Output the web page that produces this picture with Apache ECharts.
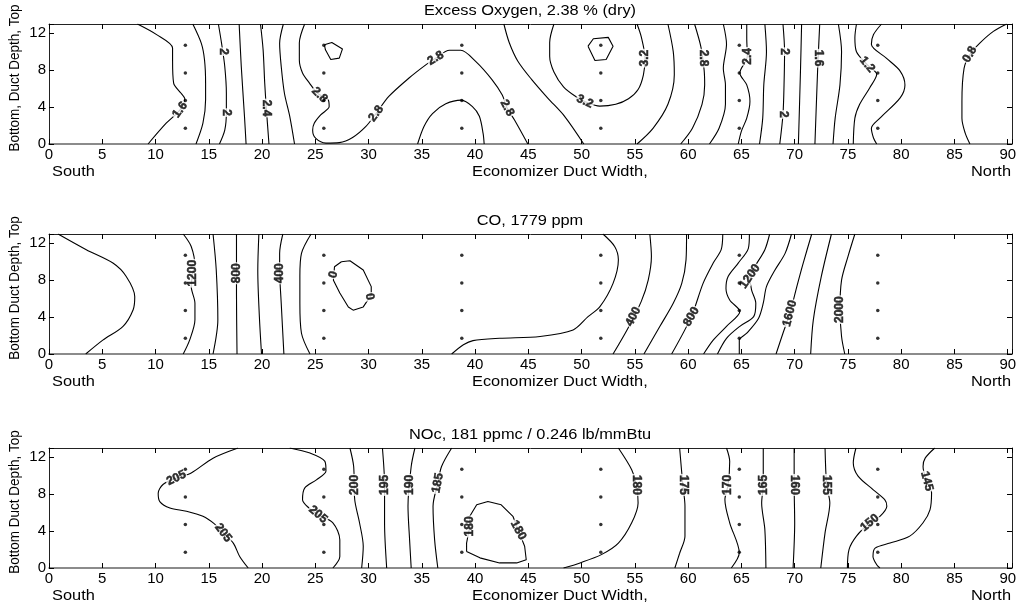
<!DOCTYPE html>
<html><head><meta charset="utf-8">
<script src="https://cdn.jsdelivr.net/npm/echarts@6/dist/echarts.min.js"></script>
<style>html,body{margin:0;padding:0;background:#fff}#c{width:1021px;height:610px}</style>
</head><body><div id="c"></div>
<script>
// ---------- axes / ticks ----------
const xTickValues = [0,5,10,15,20,25,30,35,40,45,50,55,60,65,70,75,80,85,90];
const yTickValues = [0,4,8,12];
const xMax = 90.4, yMax = 13;
// ---------- measurement ports (dots) ----------
const portX = [12.8, 25.8, 38.75, 51.8, 64.8, 77.8];
const portY = [1.7, 4.7, 7.7, 10.7];
// ---------- texts ----------
const panelTitles = ['Excess Oxygen, 2.38 % (dry)', 'CO, 1779 ppm', 'NOc, 181 ppmc / 0.246 lb/mmBtu'];
const yAxisTitles = ['Bottom, Duct Depth, Top', 'Bottom Duct Depth, Top', 'Bottom Duct Depth, Top'];
const xAxisTitle = 'Economizer Duct Width,';
const leftSide = 'South', rightSide = 'North';

// ---------- Panel 1: Excess O2 contour lines [level, points, closed] ----------
const o2Contours = [
  [1.6, [[8.3,13],[10.1,11.85],[11.6,10.4],[11.6,9.1],[11.7,6.6],[12.4,5.5],[12.75,4.9],[12.3,3.7],[11.0,2.25],[9.3,0]]],
  [1.8, [[13.5,13],[14.3,10.9],[14.6,9.1],[14.7,6.6],[14.7,4.8],[14.45,2.25],[13.8,0]]],
  [2.0, [[15.9,13],[16.2,10.9],[16.5,8.4],[16.65,5.5],[16.65,3.4],[16.5,1.5],[16.0,0]]],
  [2.2, [[17.85,13],[18.05,8.4],[18.35,3.0],[18.5,0]]],
  [2.4, [[19.85,13],[20.1,10.2],[20.25,6.6],[20.4,3.9],[20.65,0]]],
  [2.6, [[22.0,13],[21.65,10.9],[21.8,8.4],[22.1,5.5],[22.6,3.0],[23.05,0]]],
  [2.8, [[24.0,13],[23.5,10.95],[23.5,9.1],[23.8,7.7],[24.45,6.6],[25.2,5.5],[26.2,4.8],[26.3,4.05],[25.5,3.15],[24.9,2.25],[24.75,1.5],[25.05,0.6],[26.0,0.1],[27.25,0.15],[28.5,0.7],[29.75,1.9],[30.7,3.3],[31.9,5.15],[33.8,7.15],[35.4,8.6],[36.3,9.3],[37.6,10.15],[38.65,10.15],[40.05,8.95],[41.6,6.95],[42.55,5.3],[43.0,3.9],[43.7,2.6],[44.95,0]]],
  [2.8, [[25.85,10.75],[26.55,11.0],[27.55,10.3],[27.25,9.3],[26.45,9.15],[25.95,10.2],[25.85,10.75]], true],
  [3.0, [[34.6,0],[35.2,1.9],[36.0,3.3],[37.25,4.35],[38.7,4.75],[39.75,4.05],[40.4,3.0],[40.75,1.15],[40.85,0]]],
  [3.0, [[42.7,13],[43.2,11],[44.0,9],[45.3,7],[46.8,5],[48.4,3],[50.2,0]]],
  [3.2, [[47.4,13],[47.0,11],[47.0,9.5],[47.4,7.8],[48.3,6.2],[49.5,5.1],[50.3,4.6],[51.7,4.1],[53.2,4.3],[54.4,4.9],[55.3,5.9],[55.8,7.5],[55.95,9.3],[55.6,11.6],[55.2,13]]],
  [3.4, [[50.6,10.6],[51.1,11.4],[52.5,11.55],[52.95,10.6],[52.3,9.15],[51.25,9.05],[50.6,10.6]], true],
  [3.0, [[58.1,13],[58.6,10],[58.7,7.5],[58.1,4.3],[56.7,1.7],[55.2,0]]],
  [2.8, [[60.6,13],[61.2,10.5],[61.5,8],[61.55,6.4],[61.3,4.3],[60.4,1.7],[59.3,0]]],
  [2.6, [[63.3,13],[63.6,10.8],[63.3,8.2],[63.5,6.4],[63.5,4.3],[62.9,1.7],[62.0,0]]],
  [2.4, [[65.5,13],[65.5,11.5],[65.55,9.5],[64.85,7.7],[65.5,6.4],[65.8,4.6],[65.5,2.8],[65.0,1.4],[64.7,0]]],
  [2.2, [[67.2,13],[67.35,10],[67.1,6.4],[67.0,2.8],[66.7,0]]],
  [2.0, [[68.9,13],[69.05,10],[69.0,6.4],[68.9,3.2],[68.6,0]]],
  [1.8, [[70.65,13],[70.55,8.2],[70.35,0]]],
  [1.6, [[72.35,13],[72.2,9.3],[72.1,6.4],[71.9,0]]],
  [1.4, [[74.1,13],[74.4,10],[74.25,6.4],[73.8,2.8],[73.6,0]]],
  [1.2, [[75.8,13],[75.65,11.5],[75.8,10],[76.8,8.6],[77.7,7.55],[77.05,6.1],[76.1,4.3],[75.65,2.8],[75.5,0]]],
  [1.0, [[78.15,13],[77.4,11.85],[77.2,10.8],[78.6,9.3],[79.9,7.9],[80.35,6.4],[79.9,5.0],[78.0,2.8],[77.2,1.7],[77.4,0.65],[77.7,0]]],
  [0.8, [[89.9,13],[88.65,12.2],[87.4,10.95],[86.45,9.7],[85.9,8.2],[85.7,4.6],[85.7,2.8],[86.0,1.2],[86.45,0]]]
];
const o2Labels = [
  [12.3,3.7,'1.6',54],[16.35,10.0,'2',-90],[16.65,3.4,'2',-90],[20.4,3.9,'2.4',-90],
  [25.4,5.3,'2.8',-45],[30.7,3.3,'2.8',53],[36.3,9.3,'2.8',31],[43.0,3.9,'2.8',-62],
  [50.3,4.6,'3.2',-25],[55.95,9.3,'3.2',90],[61.4,9.3,'2.8',-90],[65.6,9.5,'2.4',90],
  [69.05,10.0,'2',-90],[68.9,3.2,'2',-90],[72.2,9.3,'1.6',-90],[76.8,8.6,'1.2',-50],[86.45,9.7,'0.8',60]
];

// ---------- Panel 2: CO contour lines ----------
const coContours = [
  [1400, [[0.85,13],[3.5,11.3],[6.0,9.85],[7.25,8.4],[8.05,6.2],[7.9,4.8],[6.95,3.0],[5.05,1.5],[3.45,0]]],
  [1200, [[12.6,13],[13.35,11.65],[13.7,9.5],[13.5,8.75],[13.35,7.3],[13.7,5.5],[13.7,3.7],[13.2,1.5],[12.6,0]]],
  [1000, [[15.4,13],[15.7,9.1],[15.85,3.7],[15.4,0]]],
  [800, [[17.6,13],[17.6,6.5],[17.65,0]]],
  [600, [[19.7,13],[19.6,9],[19.75,4],[19.95,0]]],
  [400, [[21.95,13],[21.65,10.9],[21.65,9.1],[21.8,5.5],[22.05,0]]],
  [200, [[24.6,13],[23.7,10.9],[23.55,8.4],[23.55,5.5],[23.7,2.25],[24.5,0]]],
  [0, [[27.45,10.0],[28.25,10.1],[29.5,9.1],[30.25,7.3],[30.25,6.4],[29.5,5.1],[28.55,4.75],[28.1,5.1],[27.3,6.6],[26.7,8.0],[26.8,9.45],[27.45,10.0]], true],
  [200, [[37.8,0],[38.9,1.0],[39.8,1.45],[42.3,1.7],[46.1,1.9],[49.2,2.6],[50.6,4.05],[51.7,5.1],[52.95,7.65],[53.45,10.2],[53.1,11.65],[52.0,13]]],
  [400, [[52.95,0],[54.35,2.8],[55.6,5.7],[56.25,8.0],[56.55,10.55],[56.4,13]]],
  [600, [[55.85,0],[57.35,3.0],[58.6,5.5],[59.4,7.65],[59.8,10.2],[59.85,13]]],
  [800, [[58.45,0],[60.3,4.05],[61.4,7.65],[62.35,9.85],[63.1,11.3],[63.25,13]]],
  [1000, [[61.45,0],[62.35,1.5],[63.6,3.0],[64.85,4.6],[63.9,5.85],[63.55,7.1],[63.75,8.4],[64.7,9.85],[65.65,11.45],[65.75,13]]],
  [1200, [[62.75,0],[63.6,1.7],[64.85,3.0],[66.15,4.05],[66.35,5.5],[65.95,6.95],[65.8,8.4],[66.25,9.45],[67.2,11.3],[67.65,13]]],
  [1400, [[64.8,0],[64.8,1.5],[65.5,2.25],[66.6,3.85],[67.05,5.5],[67.35,7.3],[68.15,9.1],[69.1,10.9],[69.7,13]]],
  [1600, [[68.25,0],[68.9,2.25],[69.55,4.4],[70.2,7.3],[70.8,9.85],[71.6,13]]],
  [1800, [[71.5,0],[71.75,3.7],[72.5,8.4],[73.45,13]]],
  [2000, [[74.7,0],[74.4,1.9],[74.25,4.8],[74.4,8.0],[75.0,10.55],[75.65,13]]]
];
const coLabels = [
  [13.5,8.75,'1200',90],[17.6,8.75,'800',90],[21.65,8.75,'400',90],[26.7,8.6,'0',75],[30.1,6.2,'0',-80],
  [54.85,4.05,'400',63],[60.3,4.05,'800',60],[65.8,8.4,'1200',55],[69.55,4.4,'1600',75],[74.25,4.8,'2000',90]
];

// ---------- Panel 3: NOc contour lines ----------
const nocContours = [
  [205, [[17.75,13],[15.4,11.9],[13.35,10.3],[11.95,9.75],[10.7,9.05],[10.25,8.1],[10.4,7.2],[11.35,6.5],[12.9,6.15],[14.45,5.6],[15.5,4.8],[16.35,3.8],[17.3,2.7],[17.9,1.25],[18.7,0]]],
  [205, [[22.6,13],[24.5,12.45],[25.9,11.55],[26.0,10.5],[25.1,9.55],[24.0,8.65],[23.8,7.4],[24.4,6.5],[25.25,5.8],[26.65,4.9],[27.3,3.05],[27.3,1.25],[26.65,0]]],
  [200, [[28.25,13],[28.6,11.0],[28.7,7.4],[29.15,4.9],[29.5,2.35],[29.35,0]]],
  [195, [[31.3,13],[31.5,9],[31.5,4.9],[31.7,0]]],
  [190, [[34.35,13],[34.0,11.0],[33.7,6.7],[33.85,3.05],[34.0,0]]],
  [185, [[37.8,13],[36.85,11.0],[36.5,9.2],[36.05,6.7],[36.2,3.05],[36.5,0]]],
  [180, [[39.2,1.8],[39.2,2.7],[39.5,4.5],[39.5,5.6],[40.15,6.85],[41.2,7.2],[42.45,6.85],[43.55,5.6],[44.05,4.1],[44.65,2.35],[44.8,0.9],[43.9,0.55],[42.3,0.55],[40.45,1.1],[39.2,1.8]], true],
  [180, [[53.45,13],[54.7,10.65],[55.15,9.0],[55.3,7.05],[54.7,4.9],[53.45,2.7],[51.85,1.45],[49.85,0.55],[48.3,0]]],
  [175, [[59.2,13],[59.5,9.0],[59.7,6.7],[59.7,3.45],[59.2,1.6],[58.75,0]]],
  [170, [[63.6,13],[63.9,11.55],[63.75,9.0],[63.45,7.4],[63.9,4.9],[64.8,1.65],[64.05,0]]],
  [165, [[67.05,13],[67.05,9],[66.9,7.05],[67.2,4.15],[67.3,0]]],
  [160, [[69.95,13],[69.95,9],[70.0,4.9],[69.85,0]]],
  [155, [[72.85,13],[73.0,9],[73.3,7.05],[72.85,3.8],[72.45,0]]],
  [150, [[75.75,13],[75.5,11.4],[75.95,9.95],[77.35,8.5],[78.45,7.4],[78.65,6.7],[78.0,5.6],[77.05,4.9],[75.8,3.45],[75.1,2.0],[74.95,0]]],
  [145, [[83.15,13],[82.25,11.9],[82.05,11.0],[82.4,9.4],[82.85,8.15],[82.7,6.3],[82.05,4.9],[80.8,3.45],[78.95,2.7],[77.55,2.15],[77.35,1.25],[77.7,0.35],[78.0,0]]]
];
const nocLabels = [
  [11.95,9.75,'205',25],[16.35,3.8,'205',-52],[25.25,5.8,'205',-40],[28.65,9.0,'200',90],
  [31.5,9.0,'195',90],[33.85,9.0,'190',90],[36.5,9.2,'185',80],[39.5,4.5,'180',90],
  [44.05,4.1,'180',-62],[55.15,9.0,'180',-90],[59.5,9.0,'175',-90],[63.75,9.0,'170',90],
  [67.05,9.0,'165',90],[69.95,9.0,'160',-90],[73.0,9.0,'155',-90],[77.05,4.9,'150',40],[82.4,9.4,'145',-75]
];

// ---------- build chart ----------
const FONT = '"Liberation Sans", Arial, Helvetica, sans-serif';
const gridTops = [24, 234, 448];
const gridH = 120, gridLeft = 49, gridW = 963;
const panels = [[o2Contours, o2Labels], [coContours, coLabels], [nocContours, nocLabels]];

const grid = [], xAxis = [], yAxis = [], series = [], graphic = [];
const axisCol = '#222';
panels.forEach((p, i) => {
  grid.push({left: gridLeft, top: gridTops[i], width: gridW, height: gridH, containLabel: false, outerBoundsMode: 'none'});
  const xl = v => xTickValues.includes(v) ? String(v) : '';
  const yl = v => yTickValues.includes(v) ? String(v) : '';
  xAxis.push({gridIndex: i, type: 'value', min: 0, max: xMax, interval: 5, position: 'bottom',
    axisLine: {onZero: false, lineStyle: {color: '#666', width: 1.6}},
    axisTick: {inside: true, length: 5, lineStyle: {color: '#000'}},
    axisLabel: {margin: 3, fontSize: 15, color: '#000', fontFamily: FONT, formatter: xl},
    splitLine: {show: false}});
  xAxis.push({gridIndex: i, type: 'value', min: 0, max: xMax, interval: 5, position: 'top',
    axisLine: {onZero: false, lineStyle: {color: axisCol, width: 1}},
    axisTick: {inside: true, length: 5, lineStyle: {color: '#000'}},
    axisLabel: {show: false}, splitLine: {show: false}});
  yAxis.push({gridIndex: i, type: 'value', min: 0, max: yMax, interval: 4, position: 'left',
    axisLine: {onZero: false, lineStyle: {color: axisCol, width: 1}},
    axisTick: {inside: true, length: 5, lineStyle: {color: '#000'}},
    axisLabel: {margin: 3, fontSize: 15, color: '#000', fontFamily: FONT, formatter: yl},
    splitLine: {show: false}});
  yAxis.push({gridIndex: i, type: 'value', min: 0, max: yMax, interval: 4, position: 'right',
    axisLine: {onZero: false, lineStyle: {color: axisCol, width: 1}},
    axisTick: {inside: true, length: 5, lineStyle: {color: '#000'}},
    axisLabel: {show: false}, splitLine: {show: false}});

  const xi = 2 * i, yi = 2 * i;
  p[0].forEach(c => {
    series.push({type: 'line', xAxisIndex: xi, yAxisIndex: yi, data: c[1], name: String(c[0]),
      showSymbol: false, symbol: 'none', smooth: c[2] ? false : 0.3, silent: true, animation: false,
      lineStyle: {color: '#000', width: 1.1}, z: 2});
  });
  series.push({type: 'scatter', xAxisIndex: xi, yAxisIndex: yi, silent: true, animation: false,
    symbolSize: 1, itemStyle: {color: 'rgba(0,0,0,0)'}, z: 3,
    label: {show: true, position: 'inside', fontSize: 12, fontWeight: 'bold', color: '#000',
      fontFamily: FONT, backgroundColor: '#fff', padding: [0, 1],
      textBorderColor: '#000', textBorderWidth: 0.5},
    data: p[1].map(l => ({value: [l[0], l[1]], label: {formatter: l[2], rotate: l[3]}}))});
  const dots = [];
  portX.forEach(x => portY.forEach(y => dots.push([x, y])));
  series.push({type: 'scatter', xAxisIndex: xi, yAxisIndex: yi, silent: true, animation: false,
    symbolSize: 3.5, itemStyle: {color: '#000'}, z: 5, data: dots});

  const t = gridTops[i];
  const txt = (x, y, s, align, extra) => Object.assign({type: 'text', x: x, y: y, silent: true,
    style: {text: s, fontSize: 14, fontFamily: FONT, fill: '#000', align: align, verticalAlign: 'middle',
      textAlign: align, textVerticalAlign: 'middle'}}, extra || {});
  graphic.push(txt(530, t - 13, panelTitles[i], 'center', {scaleX: 1.17}));
  graphic.push(txt(52, t + 148, leftSide, 'left', {scaleX: 1.17}));
  graphic.push(txt(472, t + 148, xAxisTitle, 'left', {scaleX: 1.17}));
  graphic.push(txt(1011, t + 148, rightSide, 'right', {scaleX: 1.17}));
  const yt = txt(15, t + 54, yAxisTitles[i], 'center', {rotation: Math.PI / 2, scaleY: 1.15});
  yt.style.fontSize = 13.5;
  graphic.push(yt);
});

const chart = echarts.init(document.getElementById('c'), null, {renderer: 'canvas'});
chart.setOption({animation: false, backgroundColor: '#fff', textStyle: {fontFamily: FONT},
  grid, xAxis, yAxis, series, graphic});
</script></body></html>
